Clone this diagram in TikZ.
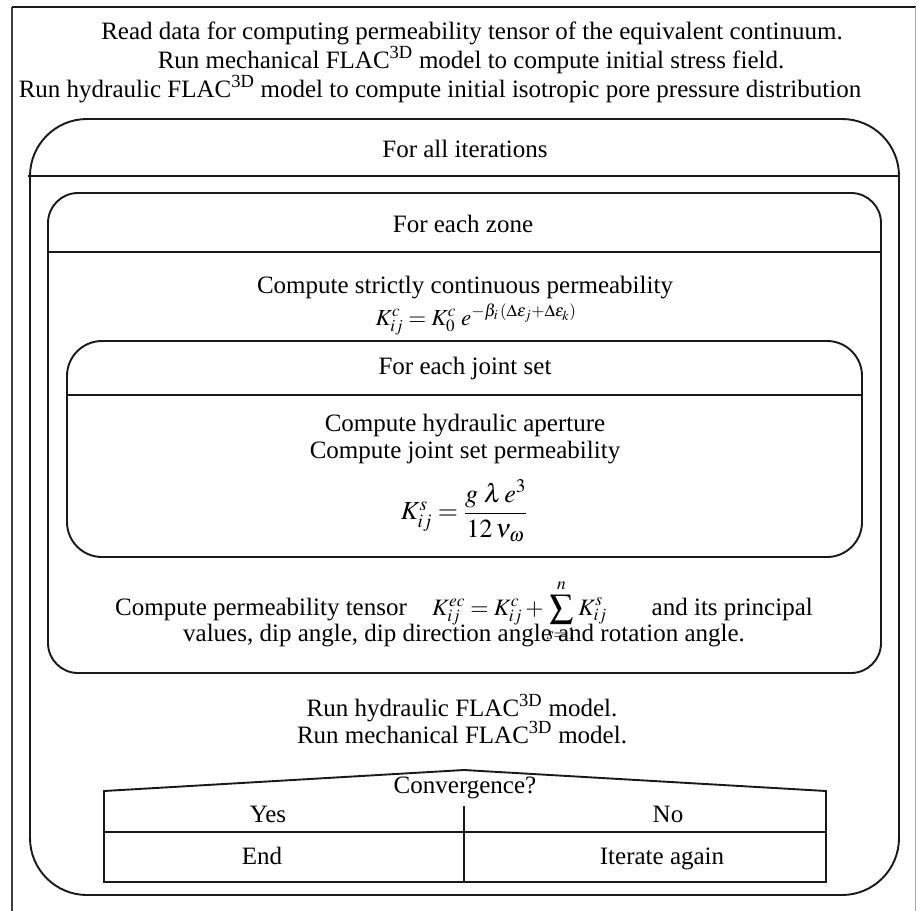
\documentclass[tikz,border=0pt]{standalone}
\usepackage{mathptmx}
\usepackage{fontspec}
\setmainfont{Liberation Serif}
\begin{document}
\begin{tikzpicture}[x=1pt,y=-1pt,
  txt/.style={inner sep=0pt, anchor=base, font=\fontsize{25}{29}\selectfont},
  boxline/.style={line width=1.9pt, black!90},
  frameline/.style={line width=1.4pt, black!75}]
\useasboundingbox (0,0) rectangle (917,910);
\begin{scope}
\clip (0,0) rectangle (917,910);
\draw[frameline] (12,915) -- (12,7);
\draw[line width=2pt, black!90] (12,7) -- (915.5,7);
\draw[line width=1pt, black!35] (915.5,7) -- (915.5,915);
\end{scope}
% texts above
\node[txt] (l1) at (472,39) {Read data for computing permeability tensor of the equivalent continuum.};
\node[txt] (l2) at (471,68) {Run mechanical FLAC\textsuperscript{3D} model to compute initial stress field.};
\node[txt] (l3) at (440,97) {Run hydraulic FLAC\textsuperscript{3D} model to compute initial isotropic pore pressure distribution};
% iteration box
\draw[boxline, rounded corners=57pt] (30,119) rectangle (899,895);
\draw[boxline] (28,176) -- (899,176);
\node[txt] (iter) at (465,157) {For all iterations};
% zone box
\draw[boxline, rounded corners=30pt] (48,193) rectangle (881,673);
\draw[boxline] (48,252) -- (881,252);
\node[txt] (zone) at (463,232) {For each zone};
\node[txt] (strict) at (465,293) {Compute strictly continuous permeability};
\node[txt, font=\fontsize{23}{27}\selectfont] (kc) at (476,325) {$K^{c}_{ij} = K^{c}_{0}\; e^{-\beta_i\,(\Delta\varepsilon_j + \Delta\varepsilon_k)}$};
% joint set box
\draw[boxline, rounded corners=35pt] (67,341) rectangle (862,557);
\draw[boxline] (67,395) -- (862,395);
\node[txt] (joint) at (465,374) {For each joint set};
\node[txt] (aper) at (465,431) {Compute hydraulic aperture};
\node[txt] (jsp) at (465,458) {Compute joint set permeability};
\node[txt, anchor=center, font=\fontsize{26}{30}\selectfont] (ks) at (464,511) {$K^{s}_{ij} = {\displaystyle\frac{g\;\lambda\, e^{3}}{12\,\nu_{\omega}}}$};
% tensor
\node[txt, anchor=base west] (tensor) at (115,615) {Compute permeability tensor};
\node[txt, anchor=base west, font=\fontsize{23.5}{28}\selectfont] (keq) at (432,615) {$K^{ec}_{ij} = K^{c}_{ij} + \displaystyle\sum_{s=1}^{n} K^{s}_{ij}$};
\node[txt, anchor=base east] (princ) at (813,615) {and its principal};
\node[txt] (vals) at (464,641) {values, dip angle, dip direction angle and rotation angle.};
% runs
\node[txt] (runh) at (462,716) {Run hydraulic FLAC\textsuperscript{3D} model.};
\node[txt] (runm) at (462,743) {Run mechanical FLAC\textsuperscript{3D} model.};
% convergence table
\draw[boxline] (104,882) -- (104,791) -- (464,770) -- (826,791) -- (826,882) -- cycle;
\draw[boxline] (104,832) -- (826,832);
\draw[boxline] (464,806) -- (464,882);
\node[txt] (conv) at (465,793) {Convergence?};
\node[txt] (yes) at (268,822) {Yes};
\node[txt] (no) at (668,822) {No};
\node[txt] (end) at (262,864) {End};
\node[txt] (again) at (662,864) {Iterate again};
\end{tikzpicture}
\end{document}
